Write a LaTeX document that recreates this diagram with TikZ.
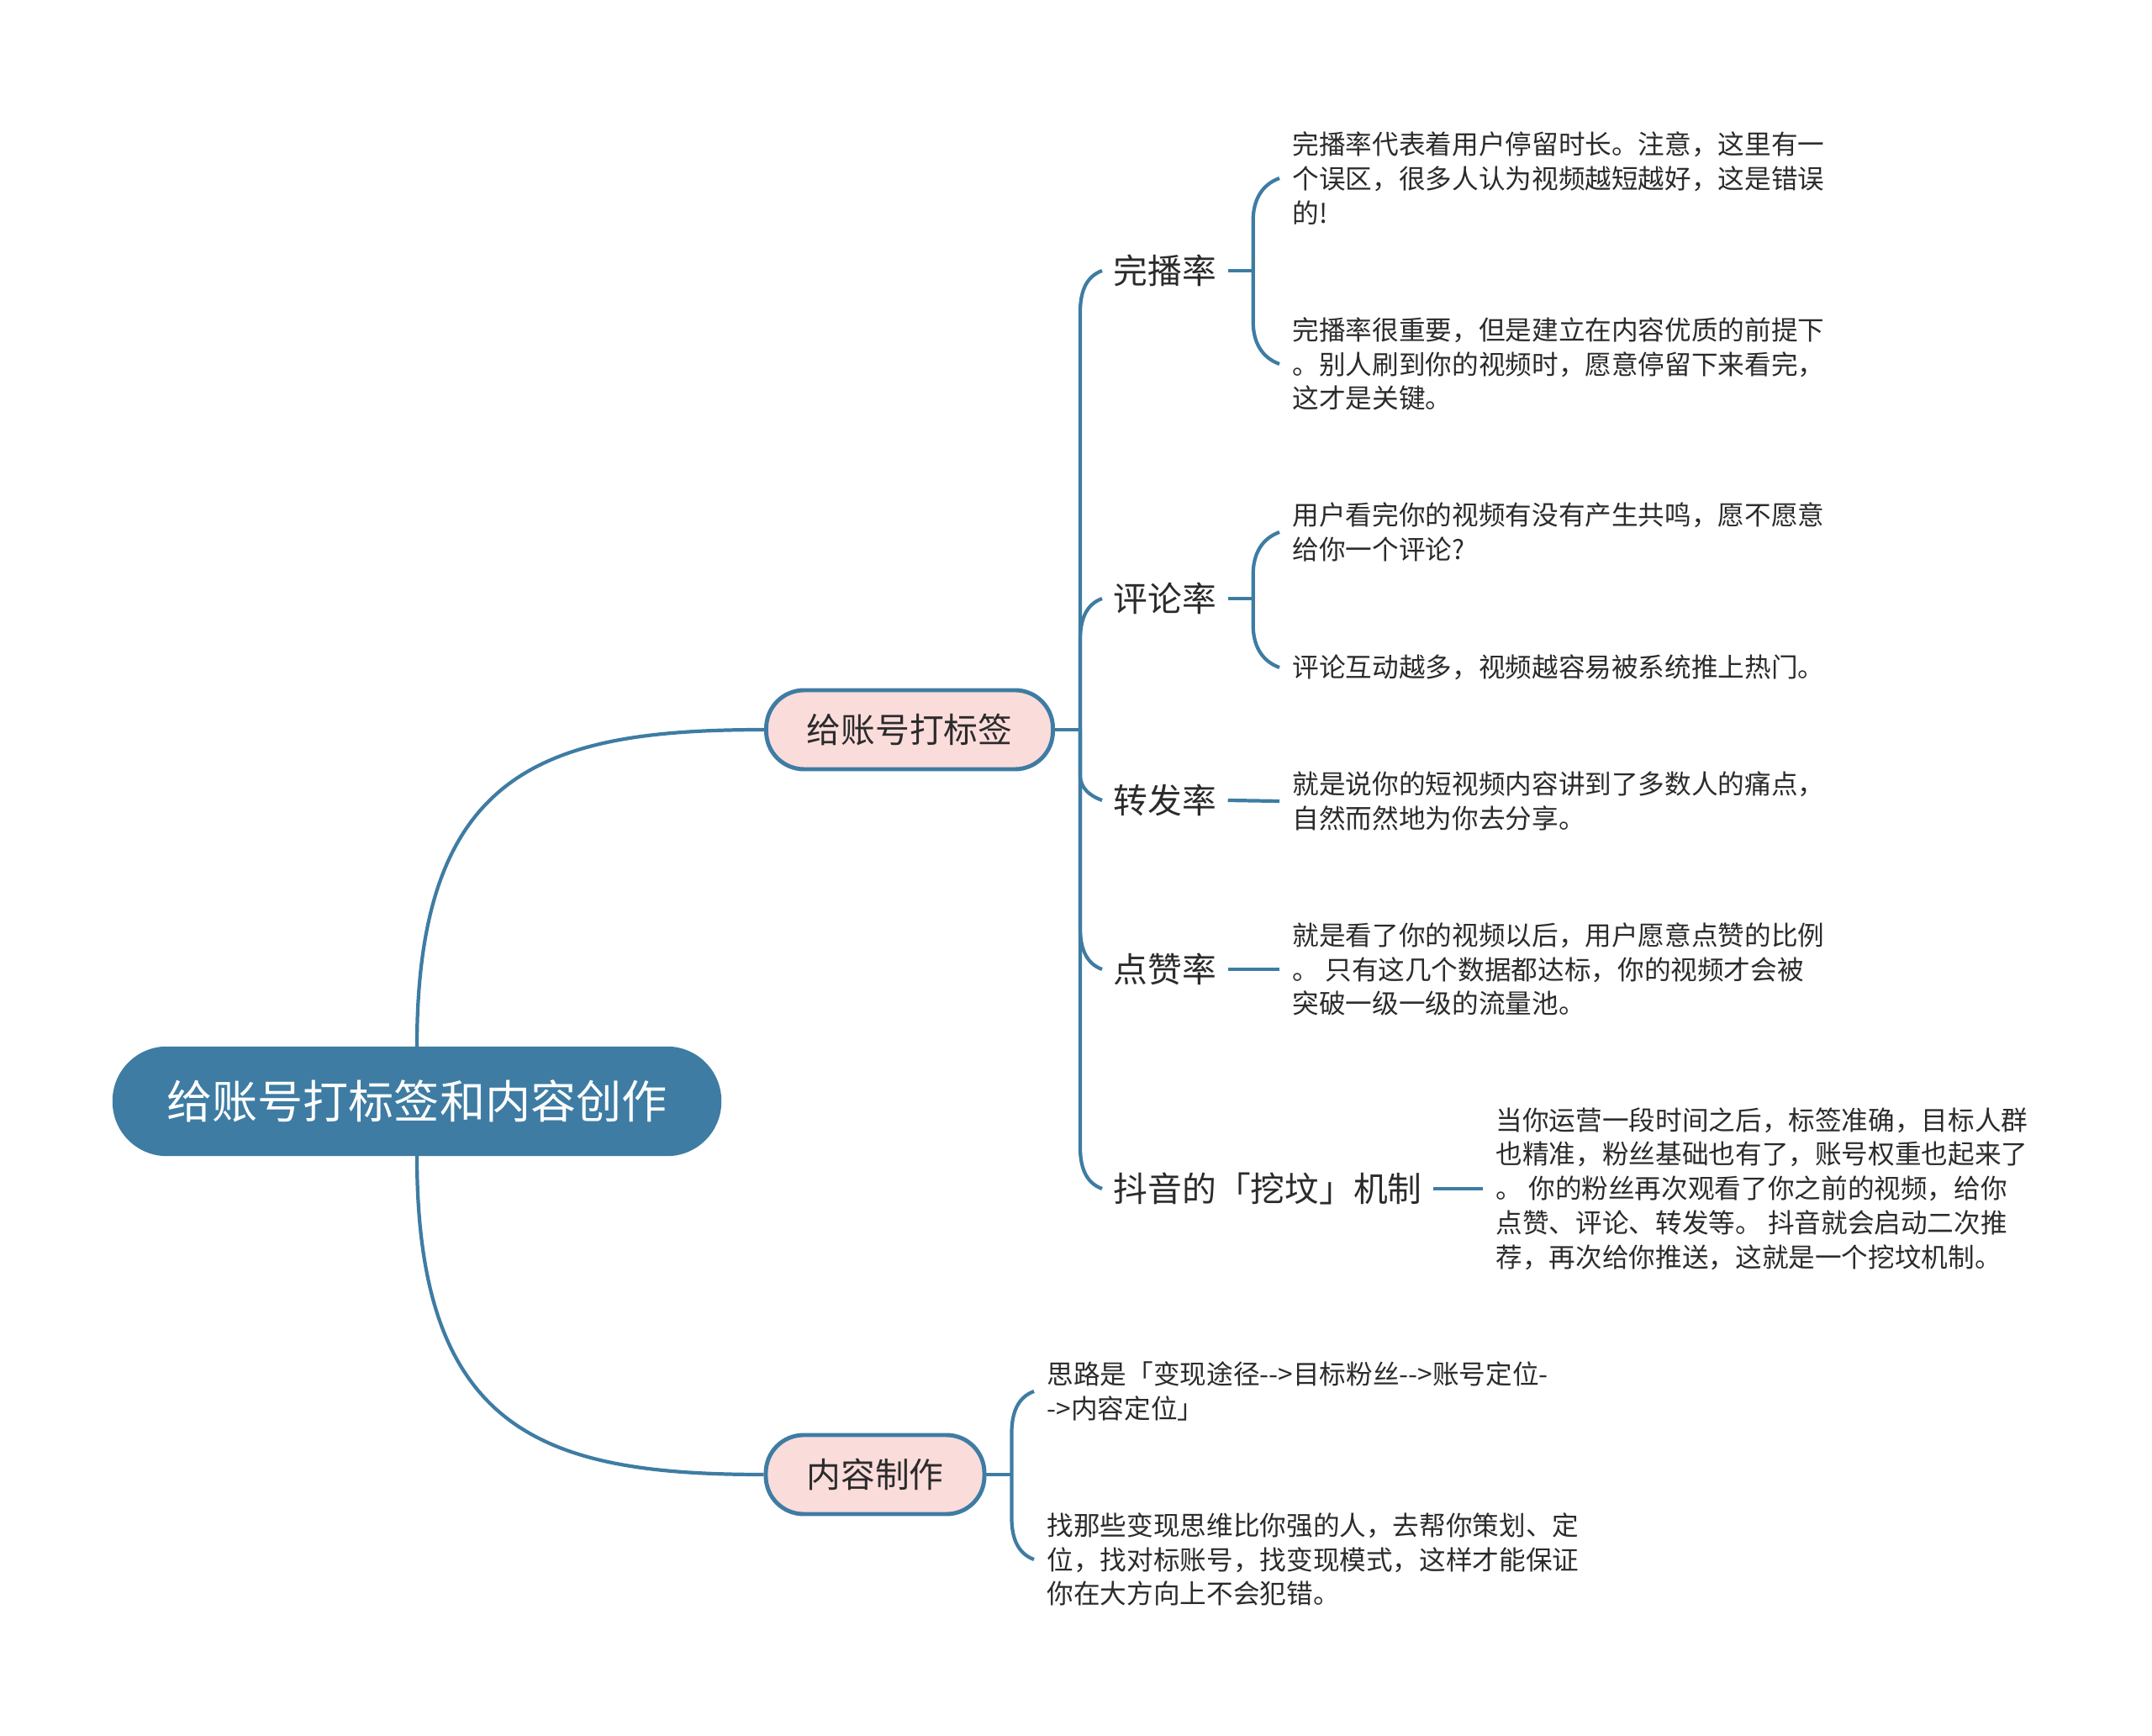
\documentclass[tikz,border=0pt]{standalone}
\usepackage{fontspec}
\setmainfont{Noto Sans CJK SC}
\usepackage{tikz}

\definecolor{mapblue}{HTML}{3E7CA3}
\definecolor{mappink}{HTML}{FADCDB}
\definecolor{maptext}{HTML}{2B2B2B}

\tikzset{
    rootbox/.style={fill=mapblue, draw=mapblue, text=white, rounded corners=0.64cm,
        minimum width=7.23cm, minimum height=1.29cm, font=\fontsize{15.4pt}{18pt}\selectfont},
    topicbox/.style={fill=mappink, draw=mapblue, line width=1.4pt, rounded corners=0.45cm,
        minimum height=0.94cm, text=maptext, font=\fontsize{11.6pt}{14pt}\selectfont},
    sublabel/.style={anchor=west, inner sep=0.13cm, text=maptext, font=\fontsize{11.6pt}{14pt}\selectfont},
    leaftext/.style={anchor=west, inner sep=0.15cm, align=left, text=maptext, font=\fontsize{9pt}{11.6pt}\selectfont},
    branch/.style={draw=mapblue, line width=1.2pt},
}

\begin{document}
\begin{tikzpicture}
    \useasboundingbox (0,0) rectangle (25.6,-20.65);

    \node[rootbox] (root) at (4.96,-13.10) {给账号打标签和内容创作};
    \node[topicbox, minimum width=3.41cm] (tag) at (10.82,-8.68) {给账号打标签};
    \node[topicbox, minimum width=2.60cm] (make) at (10.41,-17.54) {内容制作};

    \node[sublabel] (wanbo) at (13.11,-3.22) {完播率};
    \node[sublabel] (pinglun) at (13.11,-7.12) {评论率};
    \node[sublabel] (zhuanfa) at (13.11,-9.52) {转发率};
    \node[sublabel] (dianzan) at (13.11,-11.53) {点赞率};
    \node[sublabel] (wafen) at (13.11,-14.14) {抖音的「挖坟」机制};

    \node[leaftext] (wanboA) at (15.22,-2.12) {完播率代表着用户停留时长。注意，这里有一\\个误区，很多人认为视频越短越好，这是错误\\的!};
    \node[leaftext] (wanboB) at (15.22,-4.33) {完播率很重要，但是建立在内容优质的前提下\\。别人刷到你的视频时，愿意停留下来看完，\\这才是关键。};
    \node[leaftext] (pinglunA) at (15.22,-6.33) {用户看完你的视频有没有产生共鸣，愿不愿意\\给你一个评论?};
    \node[leaftext] (pinglunB) at (15.22,-7.94) {评论互动越多，视频越容易被系统推上热门。};
    \node[leaftext] (zhuanfaA) at (15.22,-9.53) {就是说你的短视频内容讲到了多数人的痛点，\\自然而然地为你去分享。};
    \node[leaftext] (dianzanA) at (15.22,-11.53) {就是看了你的视频以后，用户愿意点赞的比例\\。 只有这几个数据都达标，你的视频才会被\\突破一级一级的流量池。};
    \node[leaftext] (wafenA) at (17.64,-14.14) {当你运营一段时间之后，标签准确，目标人群\\也精准，粉丝基础也有了，账号权重也起来了\\。 你的粉丝再次观看了你之前的视频，给你\\点赞、评论、转发等。 抖音就会启动二次推\\荐，再次给你推送，这就是一个挖坟机制。};
    \node[leaftext] (makeA) at (12.30,-16.55) {思路是「变现途径{-}{-}>目标粉丝{-}{-}>账号定位{-}\\{-}>内容定位」};
    \node[leaftext] (makeB) at (12.30,-18.55) {找那些变现思维比你强的人，去帮你策划、定\\位，找对标账号，找变现模式，这样才能保证\\你在大方向上不会犯错。};

    % root to topics
    \draw[branch] (root.north) .. controls +(0,3.3) and +(-2.6,0) .. (tag.west);
    \draw[branch] (root.south) .. controls +(0,-3.3) and +(-2.6,0) .. (make.west);

    % topic to sub labels
    \coordinate (tagfork) at ([xshift=0.3cm]tag.east);
    \draw[branch] (tag.east) -- (tagfork);
    \draw[branch] (tagfork) -- ([yshift=-0.5cm]tagfork |- wanbo.west) to[out=90,in=200] (wanbo.west);
    \draw[branch] (tagfork) -- ([yshift=-0.5cm]tagfork |- pinglun.west) to[out=90,in=200] (pinglun.west);
    \draw[branch] (tagfork) -- ([yshift=0.3cm]tagfork |- zhuanfa.west) to[out=-90,in=160] (zhuanfa.west);
    \draw[branch] (tagfork) -- ([yshift=0.5cm]tagfork |- dianzan.west) to[out=-90,in=160] (dianzan.west);
    \draw[branch] (tagfork) -- ([yshift=0.5cm]tagfork |- wafen.west) to[out=-90,in=160] (wafen.west);

    % sub labels to leaves
    \coordinate (wanbofork) at ([xshift=0.3cm]wanbo.east);
    \draw[branch] (wanbo.east) -- (wanbofork);
    \draw[branch] (wanbofork) -- ([yshift=-0.5cm]wanbofork |- wanboA.west) to[out=90,in=200] (wanboA.west);
    \draw[branch] (wanbofork) -- ([yshift=0.5cm]wanbofork |- wanboB.west) to[out=-90,in=160] (wanboB.west);

    \coordinate (pinglunfork) at ([xshift=0.3cm]pinglun.east);
    \draw[branch] (pinglun.east) -- (pinglunfork);
    \draw[branch] (pinglunfork) -- ([yshift=-0.5cm]pinglunfork |- pinglunA.west) to[out=90,in=200] (pinglunA.west);
    \draw[branch] (pinglunfork) -- ([yshift=0.5cm]pinglunfork |- pinglunB.west) to[out=-90,in=160] (pinglunB.west);

    \draw[branch] (zhuanfa.east) -- (zhuanfaA.west);
    \draw[branch] (dianzan.east) -- (dianzanA.west);
    \draw[branch] (wafen.east) -- (wafenA.west);

    \coordinate (makefork) at ([xshift=0.3cm]make.east);
    \draw[branch] (make.east) -- (makefork);
    \draw[branch] (makefork) -- ([yshift=-0.5cm]makefork |- makeA.west) to[out=90,in=200] (makeA.west);
    \draw[branch] (makefork) -- ([yshift=0.5cm]makefork |- makeB.west) to[out=-90,in=160] (makeB.west);
\end{tikzpicture}
\end{document}
